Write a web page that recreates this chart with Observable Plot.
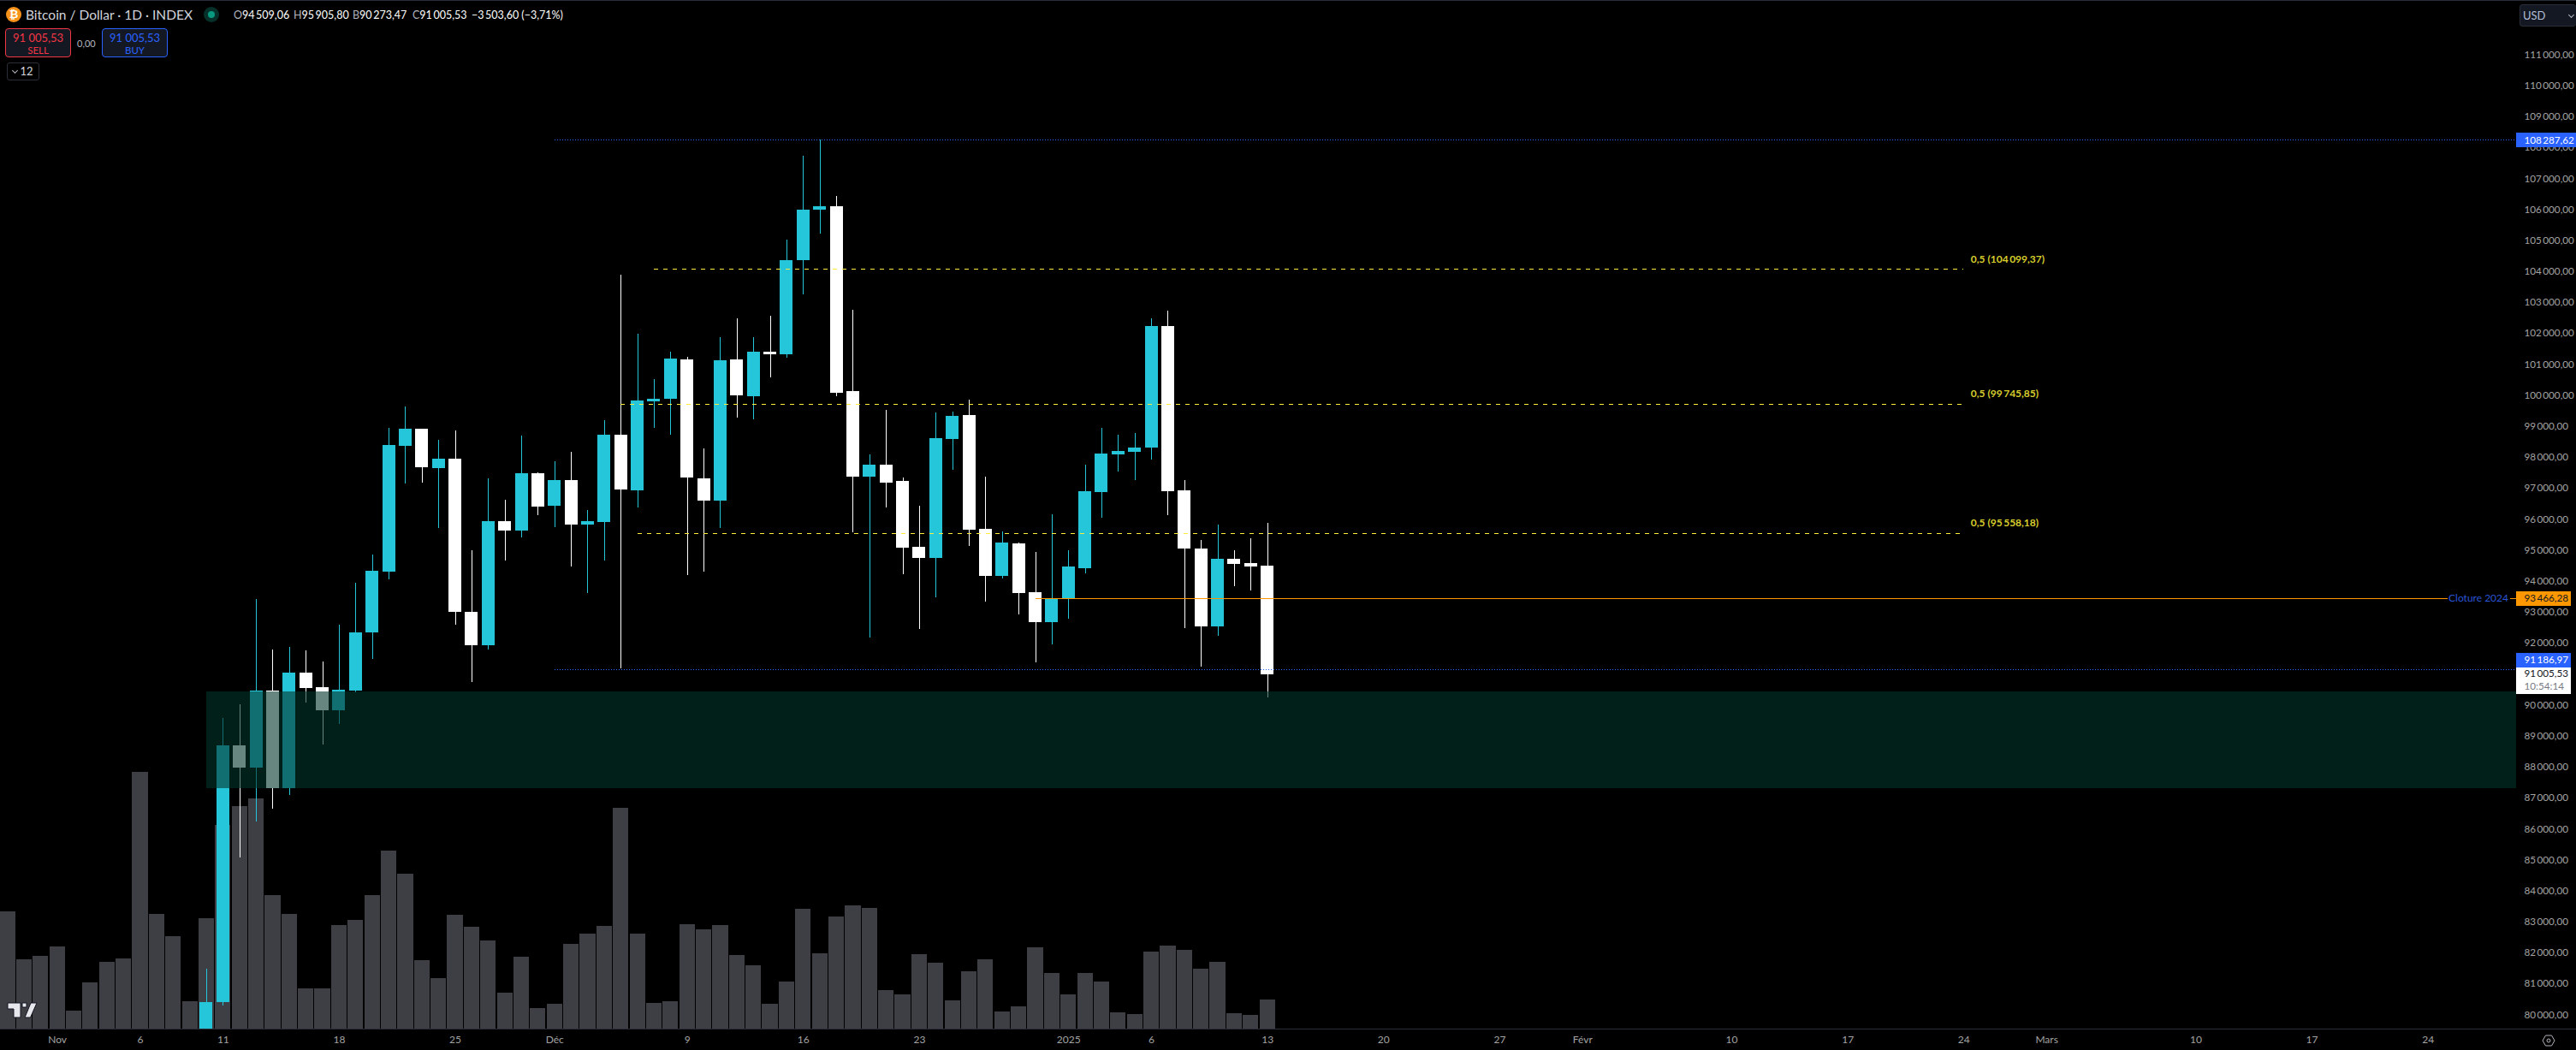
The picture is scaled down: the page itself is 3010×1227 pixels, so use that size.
<!DOCTYPE html>
<html lang="fr">
<head>
<meta charset="utf-8">
<title>Bitcoin / Dollar · 1D · INDEX</title>
<script src="https://cdn.jsdelivr.net/npm/d3@7"></script>
<script src="https://cdn.jsdelivr.net/npm/@observablehq/plot@0.6"></script>
<style>
  html,body{margin:0;padding:0;background:#000;width:3010px;height:1227px;overflow:hidden}
  body{font-family:Lato,"Liberation Sans",sans-serif;color:#d1d4dc;position:relative}
  #chart{position:absolute;left:0;top:0}
  .abs{position:absolute;white-space:nowrap}
  .box{position:absolute;box-sizing:border-box;border-radius:4px;background:#141822;text-align:center}
  .chev{display:inline-block;width:4px;height:4px;border-right:1px solid #b2b5be;border-bottom:1px solid #b2b5be;transform:rotate(45deg)}
</style>
</head>
<body>
<div id="chart"></div>
<div class="abs" style="left:0;top:0;width:3010px;height:1px;background:#2a2e39"></div>
<div class="abs" style="left:7px;top:8px;width:18px;height:18px;border-radius:50%;background:#f7931a;color:#fff;font:bold 13px/18px 'Liberation Sans';text-align:center">₿</div>
<div class="abs" style="left:30px;top:8px;font-size:15.5px;line-height:18px;color:#d1d4dc">Bitcoin / Dollar · 1D · INDEX</div>
<div class="abs" style="left:238px;top:8px;width:18px;height:18px;border-radius:50%;background:#06302a"></div>
<div class="abs" style="left:243px;top:13px;width:8px;height:8px;border-radius:50%;background:#089981"></div>
<div id="ohlc"></div>
<div class="box" style="left:6px;top:33px;width:77px;height:34px;border:1px solid #f23645;color:#f23645;font-size:13px;line-height:14px;padding-top:3px">91 005,53<br><span style="font-size:11.5px">SELL</span></div>
<div class="abs" style="left:90px;top:44px;font-size:11px;color:#b2b5be">0,00</div>
<div class="box" style="left:119px;top:33px;width:77px;height:34px;border:1px solid #2962ff;color:#2962ff;font-size:13px;line-height:14px;padding-top:3px">91 005,53<br><span style="font-size:11.5px">BUY</span></div>
<div class="box" style="left:8px;top:73px;width:38px;height:21px;border:1px solid #2a2e39;background:#000;font-size:13px;line-height:19px;border-radius:3px"><span class="chev" style="position:relative;top:-3px;margin-right:3px"></span>12</div>
<div class="box" style="left:2944px;top:5px;width:66px;height:26px;border:1px solid #2a2e39;border-right:0;text-align:left;padding-left:3px;font-size:13px;line-height:24px;color:#b4bfd8">USD<span class="chev abs" style="left:57px;top:9px"></span></div>
<svg class="abs" style="left:8px;top:1171px" width="36" height="20" viewBox="0 0 36 20"><path d="M1 1H16V18H8V8H1ZM21 18 28 1H35L27.500 18Z M18 1h5v5h-5z" fill="#e6e8ee" stroke="#131722" stroke-width="1"/></svg>
<svg class="abs" style="left:2970px;top:1208px" width="16" height="16" viewBox="0 0 16 16" fill="none" stroke="#b2b5be"><path d="M4.500 2h7L15 8l-3.500 6h-7L1 8z"/><circle cx="8" cy="8" r="2"/></svg>

<script>
// Daily candles, from 10 Nov 2024 to 13 Jan 2025
const candleStart = new Date(Date.UTC(2024, 10, 10));
const opens = [76680,80427,88720,88000,90479,87320,91064,90597,89849,90485,92364,94326,98387,98939,97668,97972,93027,91949,95955,95652,97503,
  96453,97282,95845,95927,98746,96950,99824,99907,101177,97337,96618,101177,99989,101426,101343,104383,106013,106124,100155,97392,97778,97254,95127,94767,98608,99381,95707,94187,95237,93662,92695,
  93469,94437,96895,98110,98193,98332,102255,96950,95071,92557,94740,94602,94509.06];
const highs = [81505,89600,90043,93441,91811,91894,91783,91424,92612,93966,94878,98967,99658,98939,98580,98884,95016,97337,96646,98718,97530,
  97889,98193,96315,99216,103913,102006,100542,101426,101260,98304,101896,102504,101896,102587,105046,107754,108287.62,106455,102780,98110,99547,97364,96453,99464,99492,99879,97392,95624,95265,94961,96176,
  95016,97779,98967,98746,98801,102504,102752,97282,95348,95845,95016,95403,95905.8];
const lows = [76500,80310,85102,86244,86672,87114,90098,88750,89410,90441,91507,94076,97171,97199,95734,92612,90760,91811,94685,95430,96149,
  95762,94492,93634,94685,91203,96398,98967,98746,94215,94326,95734,99298,99243,100597,101233,103277,105239,99989,95596,92198,96398,94243,92474,93496,97613,95154,93358,94104,92944,91397,91977,
  92805,94270,96066,97558,97282,97945,96149,92502,91258,92254,93855,93717,90273.47];
const closes = [80427,88720,88000,90479,87320,91064,90568,89849,90512,92364,94353,98414,98939,97696,97972,93027,91949,95955,95652,97503,96425,
  97282,95845,95955,98746,96978,99851,99907,101205,97364,96618,101150,100017,101426,101343,104383,106013,106124,100100,97392,97778,97199,95099,94767,98636,99354,95679,94187,95265,93634,92695,93466.28,
  94492,96923,98138,98221,98332,102255,96923,95071,92557,94740,94575,94492,91005.53];

// Volume bars from 29 Oct 2024, in relative units
const volumeStart = new Date(Date.UTC(2024, 9, 29));
const volumes = [137,81,85,96,21,54,78,82,300,134,108,32,129,238,260,269,156,134,47,47,121,127,156,208,181,80,59,133,119,103,42,84,24,
  29,99,111,120,258,111,30,32,122,116,121,86,74,29,55,140,88,131,144,141,45,40,87,77,33,67,81,20,26,95,65,
  40,65,55,19,17,90,97,92,70,78,18,16,34];

// Scales
const xStart = new Date(Date.UTC(2024, 9, 28, 13, 26));
const xEnd = new Date(Date.UTC(2025, 3, 1, 22, 48));
const priceTop = 112782, priceBottom = 79569;
const volumeUnit = 27.63;

const priceTicks = d3.range(80000, 112000, 1000);
const tickDates = ["2024-11-01","2024-11-06","2024-11-11","2024-11-18","2024-11-25","2024-12-01","2024-12-09","2024-12-16","2024-12-23","2025-01-01","2025-01-06","2025-01-13","2025-01-20","2025-01-27","2025-02-01","2025-02-10","2025-02-17","2025-02-24","2025-03-01","2025-03-10","2025-03-17","2025-03-24"].map(d => new Date(d));
const tickLabels = ["Nov","6","11","18","25","Déc","9","16","23","2025","6","13","20","27","Févr","10","17","24","Mars","10","17","24"];

// Drawn levels
const axisGutterStart = new Date(Date.UTC(2025, 2, 29, 8, 10));
const labelBoxEnd = new Date(Date.UTC(2025, 3, 1, 15, 36));
const labelTextX = new Date(Date.UTC(2025, 2, 29, 19, 12));
const zone = {x1: new Date(Date.UTC(2024, 10, 10)), x2: axisGutterStart, y1: 87335, y2: 90457};
const midDates = [new Date(Date.UTC(2024, 11, 7)), new Date(Date.UTC(2024, 11, 5)), new Date(Date.UTC(2024, 11, 6))];
const midLevels = [104099.37, 99745.85, 95558.18];
const midEnd = new Date(Date.UTC(2025, 1, 24));
const midLabels = ["0,5 (104\u2009099,37)", "0,5 (99\u2009745,85)", "0,5 (95\u2009558,18)"];
const midLabelDate = new Date(Date.UTC(2025, 1, 24, 10));
const midLabelPrices = [104418, 100072, 95908];
const extremes = [108287.62, 91186.97];
const extremesStart = new Date(Date.UTC(2024, 11, 1));
const closeLevel = 93466.28;
const closeSegments = [
  {x1: new Date(Date.UTC(2024, 11, 30)), x2: new Date(Date.UTC(2025, 2, 25, 5))},
  {x1: new Date(Date.UTC(2025, 2, 29)), x2: axisGutterStart}
];
const boxTops = [108499, 93690, 91700, 91231];
const boxBottoms = [108030, 93220, 91231, 90375];
const boxEnds = [xEnd, labelBoxEnd, labelBoxEnd, labelBoxEnd];
const boxFills = ["#2962ff", "#ff9800", "#2962ff", "#ffffff"];
const boxTexts = ["108\u2009287,62", "93\u2009466,28", "91\u2009186,97", "91\u2009005,53", "10:54:14"];
const boxTextPrices = [108270, 93466, 91480, 91037, 90630];
const boxTextColors = ["#ffffff", "#131722", "#ffffff", "#131722", "#787b86"];

const candles = opens.map((open, i) => ({date: d3.utcDay.offset(candleStart, i), open, high: highs[i], low: lows[i], close: closes[i]}));
const bars = volumes.map((v, i) => ({date: d3.utcDay.offset(volumeStart, i), v}));
const up = candles.filter(d => d.close >= d.open);
const down = candles.filter(d => d.close < d.open);
const DAY = 864e5;
const span = (d, w) => ({x1: new Date(+d.date - w * DAY), x2: new Date(+d.date + w * DAY)});
const candleHalf = 0.387, barHalf = 0.47;
const UP = "#26c6da", DOWN = "#ffffff";
const crisp = {shapeRendering: "crispEdges"};

const wickBody = (data, color) => [
  Plot.ruleX(data, {x: "date", y1: "low", y2: "high", stroke: color, strokeWidth: 1, clip: true, ...crisp}),
  Plot.rect(data, {x1: d => span(d, candleHalf).x1, x2: d => span(d, candleHalf).x2, y1: "open", y2: "close", fill: color, clip: true, ...crisp})
];

const chart = Plot.plot({
  width: 3010, height: 1227,
  marginLeft: 0, marginRight: 0, marginTop: 0, marginBottom: 25,
  style: {background: "#000", fontFamily: "Lato, 'Liberation Sans', sans-serif", fontSize: "12px", color: "#a3a3a3"},
  x: {type: "utc", domain: [xStart, xEnd]},
  y: {domain: [priceBottom, priceTop]},
  marks: [
    Plot.rect(bars, {x1: d => span(d, barHalf).x1, x2: d => span(d, barHalf).x2, y1: priceBottom, y2: d => priceBottom + d.v * volumeUnit, fill: "#3e3f44", ...crisp}),
    ...wickBody(up, UP),
    ...wickBody(down, DOWN),
    Plot.rect([zone], {x1: "x1", x2: "x2", y1: "y1", y2: "y2", fill: "#03352c", fillOpacity: 0.6, ...crisp}),
    Plot.ruleY(extremes, {y: d => d, x1: extremesStart, x2: axisGutterStart, stroke: "#2962ff", strokeWidth: 1, strokeDasharray: "1,2", ...crisp}),
    Plot.ruleY(midLevels, {y: d => d, x1: (d, i) => midDates[i], x2: midEnd, stroke: "#ffeb3b", strokeWidth: 1, strokeDasharray: "5,6", ...crisp}),
    Plot.text(midLabels, {x: midLabelDate, y: (d, i) => midLabelPrices[i], text: d => d, fill: "#d8ce2c", textAnchor: "start", fontSize: 12, fontWeight: 700}),
    Plot.ruleY(closeSegments, {y: closeLevel, x1: "x1", x2: "x2", stroke: "#ff9800", strokeWidth: 1, ...crisp}),
    Plot.text(["Cloture 2024"], {x: closeSegments[1].x1, y: closeLevel, text: d => d, fill: "#2a55d6", textAnchor: "end", dx: -3, fontSize: 12}),
    Plot.ruleY([priceBottom], {stroke: "#2a2e39", strokeWidth: 1, ...crisp}),
    Plot.axisX(tickDates, {anchor: "bottom", tickSize: 0, tickPadding: 8, tickFormat: d => tickLabels[tickDates.findIndex(t => +t === +d)], fontSize: 12, fill: "#a3a3a3"}),
    Plot.axisY(priceTicks, {anchor: "right", tickSize: 0, tickPadding: 0, dx: -61, dy: -1, textAnchor: "start", tickFormat: d => `${Math.floor(d / 1000)}\u2009000,00`, fontSize: 11.7, fill: "#a3a3a3"}),
    Plot.rect(boxTops, {x1: axisGutterStart, x2: (d, i) => boxEnds[i], y1: d => d, y2: (d, i) => boxBottoms[i], fill: (d, i) => i, ...crisp}),
    Plot.text(boxTexts, {x: labelTextX, y: (d, i) => boxTextPrices[i], text: d => d, fill: (d, i) => boxTextColors[i], textAnchor: "start", fontSize: 11.7})
  ],
  color: {type: "ordinal", domain: [0, 1, 2, 3], range: boxFills}
});
document.getElementById("chart").appendChild(chart);

// Legend line
const ohlcLabels = ["O", "H", "B", "C", ""];
const ohlcValues = ["94\u2009509,06", "95\u2009905,80", "90\u2009273,47", "91\u2009005,53", "\u22123\u2009503,60 (\u22123,71%)"];
const ohlcLeft = [273, 343, 412, 482, 551];
document.getElementById("ohlc").innerHTML = ohlcLabels.map((l, i) =>
  `<div class="abs" style="left:${ohlcLeft[i]}px;top:9px;font-size:12.500px;line-height:17px;color:#fff"><span style="color:#b2b5be">${l}</span>${ohlcValues[i]}</div>`).join("");
</script>
</body>
</html>
